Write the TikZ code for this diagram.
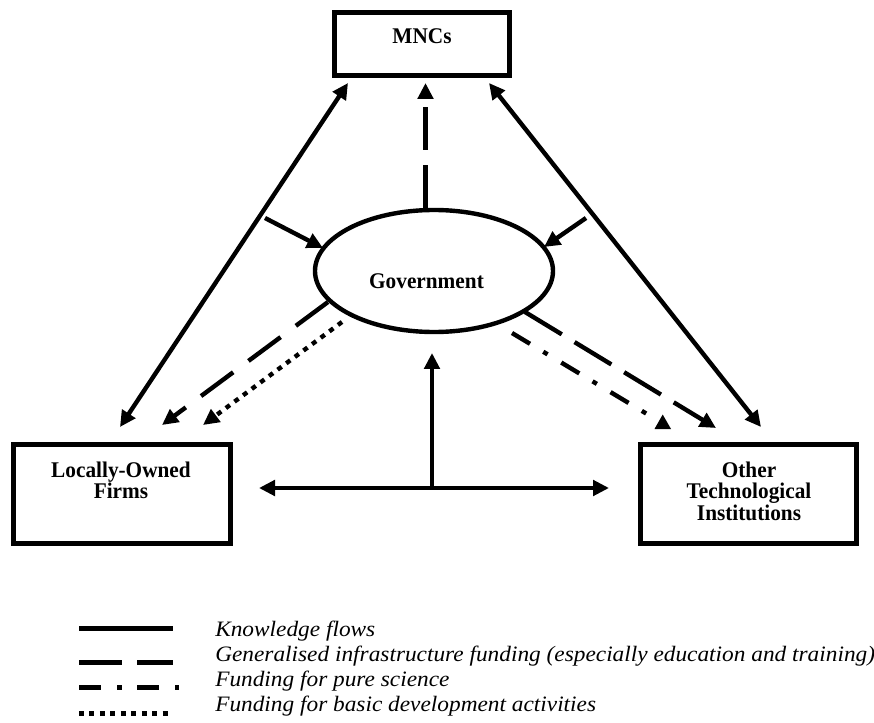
\documentclass[tikz,border=0pt]{standalone}
\usepackage{fontspec}
\setmainfont{Liberation Serif}
\newfontfamily\boxfont{Liberation Serif Bold}[FakeStretch=0.95]
\newfontfamily\legfont{Liberation Serif Italic}[FakeStretch=1.06]
\usetikzlibrary{arrows.meta,shapes.geometric}
\begin{document}
\begin{tikzpicture}[x=0.75pt,y=-0.75pt,
  boxnode/.style={draw, line width=3.75pt, inner sep=0pt, rectangle},
  lbl/.style={font={\boxfont\fontsize{16.8pt}{19pt}\selectfont}, inner sep=0pt, anchor=base},
  leg/.style={font={\legfont\fontsize{16.5pt}{19pt}\selectfont}, inner sep=0pt, anchor=base west},
  flow/.style={line width=3.3pt},
  tipend/.style={-{Triangle[length=12pt,width=11.5pt]}},
  tipboth/.style={{Triangle[length=12pt,width=11.5pt]}-{Triangle[length=12pt,width=11.5pt]}},
  dashA/.style={dash pattern=on 32.25pt off 11.25pt},
  dashB/.style={dash pattern=on 30pt off 14.25pt},
  dashdot/.style={dash pattern=on 15.75pt off 11.6pt on 3.75pt off 12pt},
  dotsq/.style={dash pattern=on 3.75pt off 4.3pt},
  legline/.style={line width=3.75pt}
]
\useasboundingbox (0,0) rectangle (874,723);

% boxes
\node[boxnode, minimum width=131.25pt, minimum height=47.6pt] (mnc) at (422,43.75) {};
\node[boxnode, minimum width=162.75pt, minimum height=74.25pt] (lof) at (122,494) {};
\node[boxnode, minimum width=162pt, minimum height=74.25pt] (oti) at (748.5,494) {};
\node[draw, ellipse, line width=3.3pt, inner sep=0pt, minimum width=178.5pt, minimum height=91.5pt] (gov) at (434,271) {};

% labels
\node[lbl] (mnct) at (422,43.3) {MNCs};
\node[lbl] (govt) at (426.5,289) {Government};
\node[lbl] (loft1) at (121,477) {Locally-Owned};
\node[lbl] (loft2) at (121,498.5) {Firms};
\node[lbl] (otit1) at (749,477) {Other};
\node[lbl] (otit2) at (749,498.5) {Technological};
\node[lbl] (otit3) at (749,520) {Institutions};

% coordinates
\coordinate (kLa) at (120,427);
\coordinate (kLb) at (348,83);
\coordinate (kRa) at (489,83);
\coordinate (kRb) at (761,427);
\coordinate (g1a) at (265,218);
\coordinate (g1b) at (323,248);
\coordinate (g2a) at (586,218);
\coordinate (g2b) at (544,247);
\coordinate (mdA) at (425.5,208);
\coordinate (mdB) at (425.5,83);
\coordinate (ldA) at (328,302);
\coordinate (ldB) at (162,425);
\coordinate (dtA) at (342,322);
\coordinate (dtB) at (203,425);
\coordinate (rdA) at (525,312);
\coordinate (rdB) at (716,428);
\coordinate (ddA) at (512,333);
\coordinate (ddB) at (647,414);
\coordinate (hL) at (259,488);
\coordinate (hR) at (609,488);
\coordinate (hM) at (432,488);
\coordinate (vT) at (432,353);

% knowledge flows
\draw[flow, tipboth] (kLa) -- (kLb);
\draw[flow, tipboth] (kRa) -- (kRb);
\draw[flow, tipend] (g1a) -- (g1b);
\draw[flow, tipend] (g2a) -- (g2b);
\draw[flow, tipboth] (hL) -- (hR);
\draw[flow, tipend] (hM) -- (vT);

% funding flows
\draw[flow, dashA, tipend] (mdA) -- (mdB);
\draw[flow, dashB, tipend] (ldA) -- (ldB);
\draw[flow, dotsq, tipend] (dtA) -- (dtB);
\draw[flow, dashA, tipend] (rdA) -- (rdB);
\draw[flow, dashdot] (ddA) -- (ddB);
\fill (654.5,429) -- (662.7,414.5) -- (671,429) -- cycle;

% legend
\draw[legline] (79,628) -- (173,628);
\draw[legline, dash pattern=on 32.25pt off 11.25pt] (79,662) -- (173,662);
\draw[legline, dash pattern=on 16.5pt off 12pt on 3.75pt off 11.25pt] (79,687) -- (179,687);
\draw[legline, dash pattern=on 3.75pt off 4.1pt] (79,713) -- (172,713);
\node[leg] (l1) at (215,636) {Knowledge flows};
\node[leg] (l2) at (215,661.5) {Generalised infrastructure funding (especially education and training)};
\node[leg] (l3) at (215,686.5) {Funding for pure science};
\node[leg] (l4) at (215,711.5) {Funding for basic development activities};
\end{tikzpicture}
\end{document}
